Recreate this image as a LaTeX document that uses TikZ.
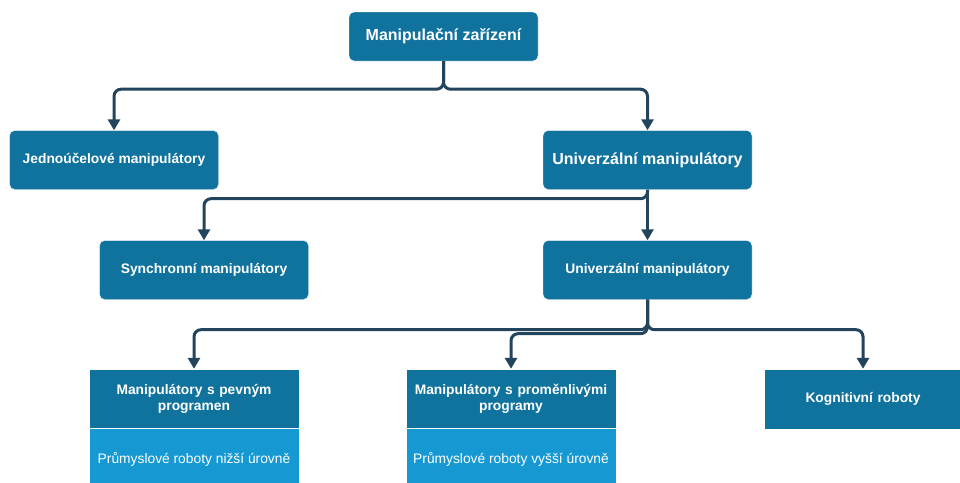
\documentclass[tikz,border=0pt]{standalone}
\usepackage{fontspec}
\setmainfont{Liberation Sans}
\usetikzlibrary{arrows.meta}
\definecolor{boxdark}{HTML}{10739E}
\definecolor{boxlight}{HTML}{1699D3}
\definecolor{linedark}{HTML}{23445D}
\begin{document}
\begin{tikzpicture}[x=1pt,y=-1pt,
  box/.style={draw=white,fill=boxdark,text=white,font=\bfseries\fontsize{13.8}{16}\selectfont,rounded corners=5pt,minimum width=209pt,minimum height=59pt,align=center,inner sep=2pt},
  flatbox/.style={box,rounded corners=0pt,text width=200pt},
  subbox/.style={draw=white,fill=boxlight,text=white,font=\fontsize{13.8}{16}\selectfont,minimum width=210pt,minimum height=62pt,align=center,inner sep=2pt},
  conn/.style={draw=linedark,line width=3pt,rounded corners=7pt,-{Triangle[length=11pt,width=12pt]}}]
\useasboundingbox (0,0) rectangle (960,482);
% top level
\node[box,minimum width=189pt,minimum height=49pt,font=\bfseries\fontsize{16}{18}\selectfont] (zarizeni) at (443.5,36.5) {Manipulační zařízení};
% second level
\node[box] (jednoucel) at (114,160) {Jednoúčelové manipulátory};
\node[box,font=\bfseries\fontsize{16}{18}\selectfont] (univerzal) at (647.5,160) {Univerzální manipulátory};
% third level
\node[box] (synchron) at (204,270) {Synchronní manipulátory};
\node[box] (univerzalB) at (647.5,270) {Univerzální manipulátory};
% bottom level
\node[flatbox,minimum width=210pt] (pevny) at (194,398.5) {Manipulátory s pevným\\programen};
\node[subbox,anchor=north] (pevnySub) at (pevny.south) {Průmyslové roboty nižší úrovně};
\node[flatbox,minimum width=210pt] (promenny) at (511,398.5) {Manipulátory s proměnlivými\\programy};
\node[subbox,anchor=north] (promennySub) at (promenny.south) {Průmyslové roboty vyšší úrovně};
\node[flatbox,text width=190pt,minimum width=198pt,minimum height=60pt] (kognitivni) at (863,399) {Kognitivní roboty};
% connectors
\draw[conn] (zarizeni.south) -- ++(0,28) -| (jednoucel.north);
\draw[conn] (zarizeni.south) -- ++(0,28) -| (univerzal.north);
\draw[conn] (univerzal.south) -- ++(0,9) -| (synchron.north);
\draw[conn] (univerzal.south) -- (univerzalB.north);
\draw[conn] (univerzalB.south) -- ++(0,30) -| (pevny.north);
\draw[conn] (univerzalB.south) -- ++(0,34) -| (promenny.north);
\draw[conn] (univerzalB.south) -- ++(0,30) -| (kognitivni.north);
\end{tikzpicture}
\end{document}
